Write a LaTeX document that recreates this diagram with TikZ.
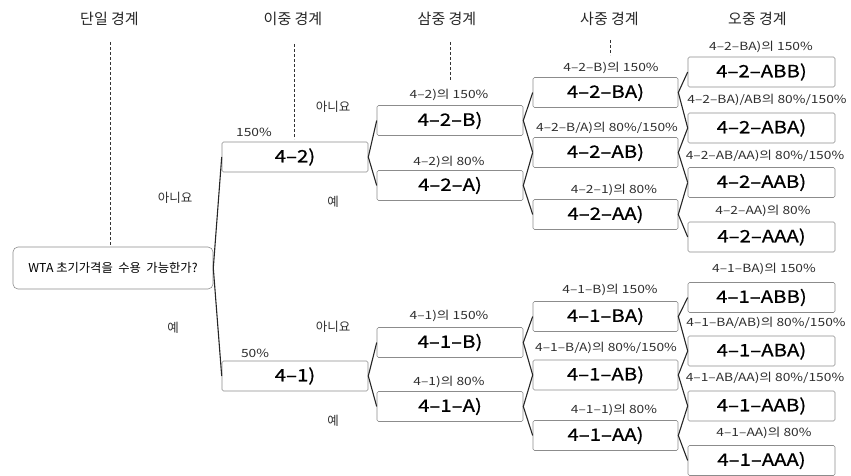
\documentclass[tikz,border=0pt]{standalone}
\usepackage{fontspec}
\setmainfont{Noto Sans CJK KR}
\newfontfamily\widefont[FakeStretch=1.22]{Noto Sans CJK KR}
\newfontfamily\boxfont[FakeStretch=1.2,FakeBold=0.6]{Noto Sans CJK KR}
\definecolor{boxgray}{HTML}{8C8C8C}
\definecolor{txtgray}{HTML}{2E2E2E}
\begin{document}
\begin{tikzpicture}[x=1pt,y=-1pt,
  box/.style={draw=boxgray, line width=0.6pt, rounded corners=1.5pt, minimum height=30pt, inner sep=0pt, text=black, font=\boxfont\fontsize{17}{17}\selectfont},
  c2/.style={box, minimum width=146pt},
  c3/.style={box, minimum width=146pt},
  c4/.style={box, minimum width=145pt},
  c5/.style={box, minimum width=147pt},
  lbl/.style={inner sep=0pt, text=txtgray, font=\widefont\fontsize{11.3}{11.3}\selectfont},
  hdr/.style={inner sep=0pt, text=black!85, font=\fontsize{15}{15}\selectfont},
  yn/.style={inner sep=0pt, text=txtgray, font=\fontsize{12.5}{12.5}\selectfont},
  conn/.style={draw=black!85, line width=1.1pt},
  guide/.style={draw=black!80, line width=0.7pt, dash pattern=on 3pt off 2pt}]
\useasboundingbox (0,0) rectangle (851,476);

% headers
\node[hdr] (h1) at (109.5,19) {단일 경계};
\node[hdr] (h2) at (293,19) {이중 경계};
\node[hdr] (h3) at (447,19) {삼중 경계};
\node[hdr] (h4) at (609.5,19) {사중 경계};
\node[hdr] (h5) at (757.5,19) {오중 경계};

% root
\node[draw=boxgray, line width=0.6pt, rounded corners=5pt, minimum width=200pt, minimum height=42pt, inner sep=0pt, text=black, font=\fontsize{12.3}{12.3}\selectfont] (wta) at (113,268) {WTA 초기가격을 \ 수용 \ 가능한가?};

% guides
\coordinate (g1a) at (110,42);
\coordinate (g2a) at (294,44); \coordinate (g2b) at (294,139);
\coordinate (g3a) at (450,42); \coordinate (g3b) at (450,80);
\coordinate (g4a) at (610,40); \coordinate (g4b) at (610,55);
\draw[guide] (g1a) -- (g1a |- wta.north);
\draw[guide] (g2a) -- (g2b);
\draw[guide] (g3a) -- (g3b);
\draw[guide] (g4a) -- (g4b);

% column 2
\node[c2] (b42) at (295,157) {4–2)};
\node[c2] (b41) at (295,376) {4–1)};
\node[lbl] (p150) at (254,132) {150\%};
\node[lbl] (p50) at (255,353) {50\%};
\node[yn] (yn1) at (175,198) {아니요};
\node[yn] (yn2) at (173,328) {예};
\node[yn] (yn3) at (333,107) {아니요};
\node[yn] (yn4) at (333,202) {예};
\node[yn] (yn5) at (333,327) {아니요};
\node[yn] (yn6) at (333,421) {예};

% column 3
\node[c3] (b42B) at (450,120.5) {4–2–B)};
\node[c3] (b42A) at (450,185.5) {4–2–A)};
\node[c3] (b41B) at (450,342.5) {4–1–B)};
\node[c3] (b41A) at (450,406.5) {4–1–A)};
\node[lbl] (l42B) at (449,95) {4–2)의 150\%};
\node[lbl] (l42A) at (449,162) {4–2)의 80\%};
\node[lbl] (l41B) at (449,316) {4–1)의 150\%};
\node[lbl] (l41A) at (449,382) {4–1)의 80\%};

% column 4
\node[c4] (b42BA) at (605.5,92.5) {4–2–BA)};
\node[c4] (b42AB) at (605.5,152.5) {4–2–AB)};
\node[c4] (b42AA) at (605.5,214.5) {4–2–AA)};
\node[c4] (b41BA) at (605.5,316.5) {4–1–BA)};
\node[c4] (b41AB) at (605.5,375) {4–1–AB)};
\node[c4] (b41AA) at (605.5,435.5) {4–1–AA)};
\node[lbl] (l42BA) at (611,68) {4–2–B)의 150\%};
\node[lbl] (l42AB) at (607,128) {4–2–B/A)의 80\%/150\%};
\node[lbl] (l42AA) at (614,190) {4–2–1)의 80\%};
\node[lbl] (l41BA) at (610,290) {4–1–B)의 150\%};
\node[lbl] (l41AB) at (606,348) {4–1–B/A)의 80\%/150\%};
\node[lbl] (l41AA) at (614,410) {4–1–1)의 80\%};

% column 5
\node[c5] (b42ABB) at (761.5,72) {4–2–ABB)};
\node[c5] (b42ABA) at (761.5,128) {4–2–ABA)};
\node[c5] (b42AAB) at (761.5,182.5) {4–2–AAB)};
\node[c5] (b42AAA) at (761.5,237) {4–2–AAA)};
\node[c5] (b41ABB) at (761.5,297.5) {4–1–ABB)};
\node[c5] (b41ABA) at (761.5,351) {4–1–ABA)};
\node[c5] (b41AAB) at (761.5,406) {4–1–AAB)};
\node[c5] (b41AAA) at (761.5,460.5) {4–1–AAA)};
\node[lbl] (l42ABB) at (761,47) {4–2–BA)의 150\%};
\node[lbl] (l42ABA) at (767,100) {4–2–BA)/AB의 80\%/150\%};
\node[lbl] (l42AAB) at (765,156) {4–2–AB/AA)의 80\%/150\%};
\node[lbl] (l42AAA) at (763,211) {4–2–AA)의 80\%};
\node[lbl] (l41ABB) at (764,269) {4–1–BA)의 150\%};
\node[lbl] (l41ABA) at (766,323) {4–1–BA/AB)의 80\%/150\%};
\node[lbl] (l41AAB) at (765,378) {4–1–AB/AA)의 80\%/150\%};
\node[lbl] (l41AAA) at (764,433) {4–1–AA)의 80\%};

% connectors
\draw[conn] (b42.west) -- (wta.east) -- (b41.west);
\draw[conn] (b42B.west) -- (b42.east) -- (b42A.west);
\draw[conn] (b41B.west) -- (b41.east) -- (b41A.west);
\draw[conn] (b42BA.west) -- (b42B.east) -- (b42AB.west);
\draw[conn] (b42AB.west) -- (b42A.east) -- (b42AA.west);
\draw[conn] (b41BA.west) -- (b41B.east) -- (b41AB.west);
\draw[conn] (b41AB.west) -- (b41A.east) -- (b41AA.west);
\draw[conn] (b42ABB.west) -- (b42BA.east) -- (b42ABA.west);
\draw[conn] (b42ABA.west) -- (b42AB.east) -- (b42AAB.west);
\draw[conn] (b42AAB.west) -- (b42AA.east) -- (b42AAA.west);
\draw[conn] (b41ABB.west) -- (b41BA.east) -- (b41ABA.west);
\draw[conn] (b41ABA.west) -- (b41AB.east) -- (b41AAB.west);
\draw[conn] (b41AAB.west) -- (b41AA.east) -- (b41AAA.west);
\end{tikzpicture}
\end{document}
